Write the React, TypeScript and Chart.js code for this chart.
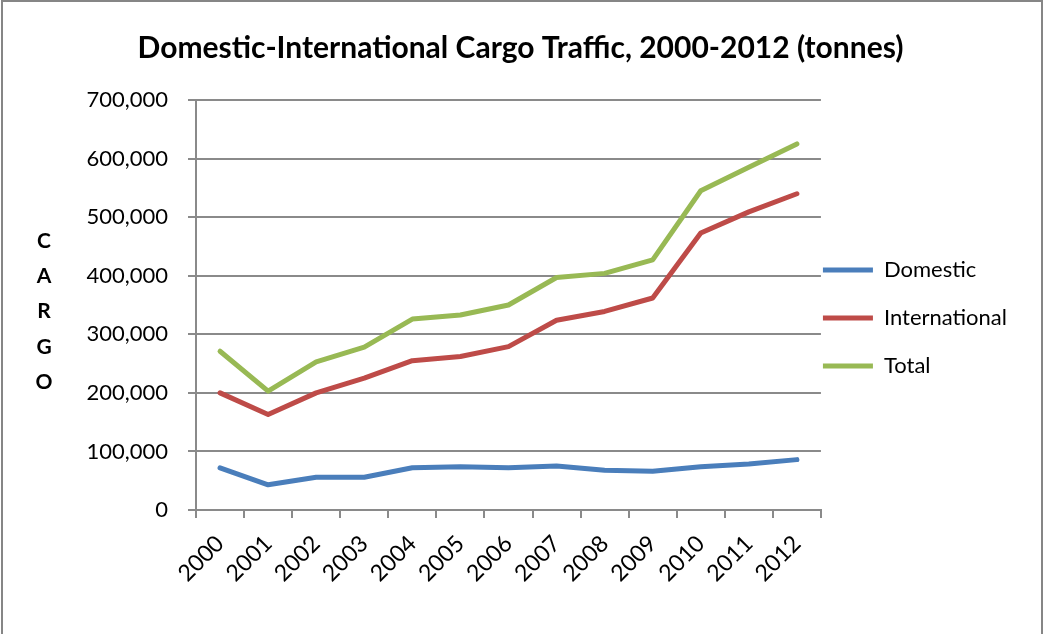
import React, { useEffect, useRef } from "react";
import { Chart, registerables } from "chart.js";

Chart.register(...registerables);

const years = ["2000", "2001", "2002", "2003", "2004", "2005", "2006", "2007", "2008", "2009", "2010", "2011", "2012"];
const domestic = [72000, 43000, 56000, 56000, 72000, 74000, 72000, 75000, 68000, 66000, 74000, 78500, 86000];
const international = [200000, 163000, 200000, 225000, 255000, 262000, 279000, 324000, 339000, 362000, 473000, 509000, 540000];
const total = [271000, 203000, 253000, 278000, 326000, 333000, 350000, 397000, 404000, 427000, 545000, 585000, 625000];
const yTitleLetters = ["C", "A", "R", "G", "O"];
const chartTitle = "Domestic-International Cargo Traffic, 2000-2012 (tonnes)";

const FONT = "Lato, 'Open Sans', sans-serif";
const GRID = "#8a8a8a";
const LEGEND_PAD = 26;

const yTitlePlugin = {
  id: "yTitleLetters",
  afterDraw(chart: any) {
    const ctx = chart.ctx;
    ctx.save();
    ctx.fillStyle = "#000";
    ctx.font = `bold 21px ${FONT}`;
    ctx.textAlign = "center";
    ctx.textBaseline = "middle";
    yTitleLetters.forEach((l, i) => {
      ctx.fillText(l, 44, 241 + i * 35.3);
    });
    ctx.restore();
  },
};

const legendShift = {
  id: "legendShift",
  afterLayout(chart: any) {
    const lg = chart.legend;
    if (!lg) return;
    const dx = chart.chartArea.right + 2 - LEGEND_PAD - lg.left;
    lg.left += dx;
    lg.right += dx;
    lg.top += 1;
    lg.bottom += 1;
  },
};

export default function App() {
  const ref = useRef<HTMLCanvasElement>(null);
  useEffect(() => {
    if (!ref.current) return;
    const mk = (label: string, data: number[], color: string) => ({
      label,
      data,
      borderColor: color,
      backgroundColor: color,
      borderWidth: 5,
      pointRadius: 0,
      pointHoverRadius: 0,
      tension: 0,
      borderCapStyle: "round" as const,
      borderJoinStyle: "round" as const,
      fill: false,
    });
    const chart = new Chart(ref.current, {
      type: "line",
      data: {
        labels: years,
        datasets: [
          mk("Domestic", domestic, "#4A7EBB"),
          mk("International", international, "#BE4B48"),
          mk("Total", total, "#98B954"),
        ],
      },
      options: {
        responsive: false,
        animation: false,
        devicePixelRatio: 1,
        layout: { padding: { left: 0, right: 3, top: 0, bottom: 0 } },
        plugins: {
          title: {
            display: true,
            text: chartTitle,
            color: "#000",
            font: { family: FONT, size: 30, weight: "bold", lineHeight: 1.2 },
            padding: { top: 30, bottom: 34 },
          },
          legend: {
            position: "right",
            align: "center",
            labels: {
              usePointStyle: true,
              pointStyle: "line",
              pointStyleWidth: 50,
              color: "#000",
              font: { family: FONT, size: 22 },
              padding: LEGEND_PAD,
            },
          },
          tooltip: { enabled: false },
        },
        scales: {
          x: {
            offset: true,
            afterFit(scale: any) {
              scale.height = 124;
            },
            grid: {
              offset: true,
              drawOnChartArea: false,
              drawTicks: true,
              tickLength: 8,
              color: GRID,
              lineWidth: 2,
            },
            border: { display: true, color: GRID, width: 2 },
            ticks: {
              color: "#000",
              font: { family: FONT, size: 23 },
              minRotation: 45,
              maxRotation: 45,
              padding: 12,
              autoSkip: false,
            },
          },
          y: {
            min: 0,
            max: 700000,
            afterFit(scale: any) {
              scale.width = 196;
            },
            grid: {
              color: GRID,
              lineWidth: 2,
              tickLength: 8,
              drawTicks: true,
            },
            border: { display: true, color: GRID, width: 2 },
            ticks: {
              stepSize: 100000,
              color: "#000",
              font: { family: FONT, size: 22 },
              padding: 20,
              callback: (v: any) => Number(v).toLocaleString("en-US"),
            },
          },
        },
      },
      plugins: [yTitlePlugin, legendShift],
    });
    return () => chart.destroy();
  }, []);

  return (
    <div style={{ position: "absolute", left: 0, top: 0, width: 1044, height: 634, background: "#fff" }}>
      <canvas ref={ref} width={1044} height={634} style={{ display: "block" }} />
      <div
        style={{
          position: "absolute",
          left: 1,
          top: 0,
          width: 1042,
          height: 640,
          boxSizing: "border-box",
          borderLeft: "2px solid #868686",
          borderRight: "2px solid #868686",
          borderTop: "2px solid #868686",
          pointerEvents: "none",
        }}
      />
    </div>
  );
}
